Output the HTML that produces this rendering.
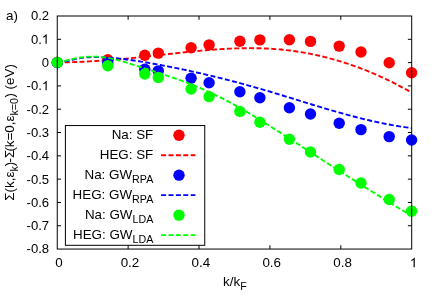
<!DOCTYPE html>
<html><head><meta charset="utf-8"><style>
html,body{margin:0;padding:0;background:#fff;}
#w{will-change:transform;width:436px;height:305px}
svg{display:block;font-family:"Liberation Sans",sans-serif;font-size:13.4px;fill:#000}
</style></head><body>
<div id="w"><svg width="436" height="305" viewBox="0 0 436 305">
<g stroke="#000" stroke-width="1" fill="none">
<path d="M57.25 39.30h3.8M411.7 39.30h-3.8"/>
<path d="M57.25 62.61h3.8M411.7 62.61h-3.8"/>
<path d="M57.25 85.92h3.8M411.7 85.92h-3.8"/>
<path d="M57.25 109.22h3.8M411.7 109.22h-3.8"/>
<path d="M57.25 132.53h3.8M411.7 132.53h-3.8"/>
<path d="M57.25 155.83h3.8M411.7 155.83h-3.8"/>
<path d="M57.25 179.14h3.8M411.7 179.14h-3.8"/>
<path d="M57.25 202.44h3.8M411.7 202.44h-3.8"/>
<path d="M57.25 225.75h3.8M411.7 225.75h-3.8"/>
<path d="M128.14 249.05v-3.8M128.14 16.0v3.8"/>
<path d="M199.03 249.05v-3.8M199.03 16.0v3.8"/>
<path d="M269.92 249.05v-3.8M269.92 16.0v3.8"/>
<path d="M340.81 249.05v-3.8M340.81 16.0v3.8"/>
</g>
<g>
<circle cx="57.3" cy="62.5" r="5.7" fill="#ff0000"/>
<circle cx="107.8" cy="59.7" r="5.7" fill="#ff0000"/>
<circle cx="144.8" cy="55.3" r="5.7" fill="#ff0000"/>
<circle cx="158.3" cy="53.1" r="5.7" fill="#ff0000"/>
<circle cx="191.1" cy="47.8" r="5.7" fill="#ff0000"/>
<circle cx="209.1" cy="44.9" r="5.7" fill="#ff0000"/>
<circle cx="239.9" cy="41.2" r="5.7" fill="#ff0000"/>
<circle cx="259.9" cy="39.9" r="5.7" fill="#ff0000"/>
<circle cx="289.4" cy="39.8" r="5.7" fill="#ff0000"/>
<circle cx="310.5" cy="41.4" r="5.7" fill="#ff0000"/>
<circle cx="339.2" cy="46.1" r="5.7" fill="#ff0000"/>
<circle cx="361.0" cy="52.0" r="5.7" fill="#ff0000"/>
<circle cx="389.2" cy="62.8" r="5.7" fill="#ff0000"/>
<circle cx="411.6" cy="72.7" r="5.7" fill="#ff0000"/>
<polyline points="57.30,62.36 59.07,62.35 60.85,62.34 62.62,62.32 64.40,62.29 66.17,62.26 67.95,62.23 69.72,62.19 71.50,62.14 73.27,62.09 75.05,62.04 76.82,61.98 78.60,61.91 80.37,61.84 82.15,61.76 83.92,61.69 85.70,61.60 87.47,61.51 89.25,61.42 91.02,61.32 92.80,61.22 94.57,61.12 96.35,61.01 98.12,60.89 99.90,60.77 101.67,60.65 103.45,60.53 105.22,60.40 107.00,60.26 108.77,60.13 110.55,59.99 112.32,59.85 114.10,59.70 115.87,59.55 117.65,59.40 119.42,59.24 121.20,59.08 122.97,58.92 124.75,58.75 126.52,58.59 128.29,58.42 130.07,58.24 131.84,58.07 133.62,57.89 135.39,57.71 137.17,57.52 138.94,57.34 140.72,57.15 142.49,56.96 144.27,56.77 146.04,56.58 147.82,56.38 149.59,56.19 151.37,55.99 153.14,55.79 154.92,55.59 156.69,55.40 158.47,55.20 160.24,55.00 162.02,54.79 163.79,54.59 165.57,54.39 167.34,54.19 169.12,53.99 170.89,53.80 172.67,53.60 174.44,53.40 176.22,53.20 177.99,53.01 179.77,52.82 181.54,52.62 183.32,52.43 185.09,52.25 186.87,52.06 188.64,51.88 190.42,51.70 192.19,51.52 193.97,51.34 195.74,51.17 197.52,51.00 199.29,50.83 201.06,50.67 202.84,50.51 204.61,50.36 206.39,50.20 208.16,50.06 209.94,49.91 211.71,49.77 213.49,49.64 215.26,49.51 217.04,49.39 218.81,49.27 220.59,49.15 222.36,49.04 224.14,48.94 225.91,48.84 227.69,48.75 229.46,48.67 231.24,48.59 233.01,48.51 234.79,48.45 236.56,48.39 238.34,48.33 240.11,48.29 241.89,48.25 243.66,48.22 245.44,48.20 247.21,48.18 248.99,48.17 250.76,48.17 252.54,48.18 254.31,48.20 256.09,48.22 257.86,48.25 259.64,48.30 261.41,48.35 263.19,48.41 264.96,48.48 266.74,48.56 268.51,48.65 270.28,48.75 272.06,48.86 273.83,48.98 275.61,49.11 277.38,49.25 279.16,49.40 280.93,49.56 282.71,49.73 284.48,49.92 286.26,50.11 288.03,50.32 289.81,50.53 291.58,50.76 293.36,51.00 295.13,51.25 296.91,51.51 298.68,51.78 300.46,52.06 302.23,52.36 304.01,52.66 305.78,52.98 307.56,53.30 309.33,53.64 311.11,53.99 312.88,54.35 314.66,54.72 316.43,55.11 318.21,55.50 319.98,55.91 321.76,56.32 323.53,56.75 325.31,57.19 327.08,57.64 328.86,58.11 330.63,58.58 332.41,59.06 334.18,59.56 335.96,60.07 337.73,60.59 339.51,61.12 341.28,61.66 343.05,62.21 344.83,62.78 346.60,63.36 348.38,63.94 350.15,64.54 351.93,65.16 353.70,65.78 355.48,66.41 357.25,67.06 359.03,67.72 360.80,68.39 362.58,69.07 364.35,69.76 366.13,70.47 367.90,71.18 369.68,71.91 371.45,72.65 373.23,73.40 375.00,74.17 376.78,74.94 378.55,75.73 380.33,76.53 382.10,77.34 383.88,78.16 385.65,79.00 387.43,79.84 389.20,80.70 390.98,81.57 392.75,82.45 394.53,83.35 396.30,84.26 398.08,85.17 399.85,86.10 401.63,87.05 403.40,88.00 405.18,88.97 406.95,89.95 408.73,90.94 410.50,91.94" fill="none" stroke="#ff0000" stroke-width="1.9" stroke-dasharray="5 2.4"/>
<circle cx="57.3" cy="62.5" r="5.7" fill="#0000ff"/>
<circle cx="107.8" cy="62.6" r="5.7" fill="#0000ff"/>
<circle cx="144.8" cy="69.2" r="5.7" fill="#0000ff"/>
<circle cx="158.3" cy="70.9" r="5.7" fill="#0000ff"/>
<circle cx="191.1" cy="78.2" r="5.7" fill="#0000ff"/>
<circle cx="209.1" cy="82.8" r="5.7" fill="#0000ff"/>
<circle cx="239.9" cy="91.8" r="5.7" fill="#0000ff"/>
<circle cx="259.9" cy="97.8" r="5.7" fill="#0000ff"/>
<circle cx="289.4" cy="107.8" r="5.7" fill="#0000ff"/>
<circle cx="310.5" cy="114.0" r="5.7" fill="#0000ff"/>
<circle cx="339.2" cy="123.2" r="5.7" fill="#0000ff"/>
<circle cx="361.0" cy="129.6" r="5.7" fill="#0000ff"/>
<circle cx="389.2" cy="136.6" r="5.7" fill="#0000ff"/>
<circle cx="411.6" cy="140" r="5.7" fill="#0000ff"/>
<polyline points="57.30,62.67 59.08,62.43 60.86,62.16 62.64,61.84 64.42,61.49 66.20,61.12 67.99,60.74 69.77,60.34 71.55,59.95 73.33,59.56 75.11,59.18 76.89,58.82 78.67,58.49 80.45,58.18 82.23,57.91 84.01,57.68 85.79,57.48 87.58,57.33 89.36,57.22 91.14,57.14 92.92,57.10 94.70,57.08 96.48,57.09 98.26,57.12 100.04,57.17 101.82,57.24 103.60,57.31 105.38,57.41 107.17,57.51 108.95,57.63 110.73,57.77 112.51,57.91 114.29,58.07 116.07,58.24 117.85,58.42 119.63,58.61 121.41,58.81 123.19,59.02 124.97,59.24 126.76,59.47 128.54,59.71 130.32,59.96 132.10,60.21 133.88,60.47 135.66,60.74 137.44,61.02 139.22,61.30 141.00,61.59 142.78,61.88 144.56,62.18 146.35,62.48 148.13,62.79 149.91,63.10 151.69,63.42 153.47,63.73 155.25,64.05 157.03,64.38 158.81,64.71 160.59,65.04 162.37,65.37 164.15,65.71 165.94,66.05 167.72,66.40 169.50,66.74 171.28,67.09 173.06,67.45 174.84,67.81 176.62,68.17 178.40,68.53 180.18,68.90 181.96,69.27 183.74,69.65 185.53,70.02 187.31,70.40 189.09,70.79 190.87,71.18 192.65,71.57 194.43,71.96 196.21,72.36 197.99,72.76 199.77,73.16 201.55,73.57 203.33,73.98 205.12,74.40 206.90,74.81 208.68,75.23 210.46,75.66 212.24,76.08 214.02,76.52 215.80,76.95 217.58,77.39 219.36,77.83 221.14,78.27 222.92,78.72 224.71,79.17 226.49,79.62 228.27,80.08 230.05,80.53 231.83,81.00 233.61,81.46 235.39,81.93 237.17,82.41 238.95,82.88 240.73,83.36 242.51,83.84 244.29,84.33 246.08,84.82 247.86,85.31 249.64,85.80 251.42,86.30 253.20,86.81 254.98,87.31 256.76,87.82 258.54,88.33 260.32,88.84 262.10,89.36 263.88,89.88 265.67,90.41 267.45,90.93 269.23,91.46 271.01,91.99 272.79,92.53 274.57,93.06 276.35,93.60 278.13,94.14 279.91,94.68 281.69,95.22 283.47,95.76 285.26,96.31 287.04,96.85 288.82,97.40 290.60,97.95 292.38,98.50 294.16,99.04 295.94,99.59 297.72,100.14 299.50,100.69 301.28,101.24 303.06,101.78 304.85,102.33 306.63,102.88 308.41,103.42 310.19,103.96 311.97,104.51 313.75,105.05 315.53,105.59 317.31,106.13 319.09,106.66 320.87,107.20 322.65,107.73 324.44,108.26 326.22,108.79 328.00,109.31 329.78,109.83 331.56,110.35 333.34,110.87 335.12,111.38 336.90,111.89 338.68,112.39 340.46,112.90 342.24,113.39 344.03,113.89 345.81,114.38 347.59,114.86 349.37,115.34 351.15,115.82 352.93,116.29 354.71,116.76 356.49,117.22 358.27,117.67 360.05,118.13 361.83,118.57 363.62,119.01 365.40,119.44 367.18,119.87 368.96,120.29 370.74,120.70 372.52,121.11 374.30,121.51 376.08,121.91 377.86,122.29 379.64,122.67 381.42,123.05 383.21,123.41 384.99,123.77 386.77,124.12 388.55,124.46 390.33,124.79 392.11,125.12 393.89,125.43 395.67,125.74 397.45,126.04 399.23,126.33 401.01,126.61 402.80,126.88 404.58,127.15 406.36,127.40 408.14,127.64 409.92,127.88 411.70,128.10" fill="none" stroke="#0000ff" stroke-width="1.9" stroke-dasharray="5 2.4"/>
<circle cx="57.3" cy="62.4" r="5.7" fill="#00ff00"/>
<circle cx="107.8" cy="65.8" r="5.7" fill="#00ff00"/>
<circle cx="144.8" cy="74" r="5.7" fill="#00ff00"/>
<circle cx="158.3" cy="77.4" r="5.7" fill="#00ff00"/>
<circle cx="191.1" cy="89.0" r="5.7" fill="#00ff00"/>
<circle cx="209.1" cy="96.6" r="5.7" fill="#00ff00"/>
<circle cx="239.9" cy="111.4" r="5.7" fill="#00ff00"/>
<circle cx="259.9" cy="122.2" r="5.7" fill="#00ff00"/>
<circle cx="289.4" cy="139.3" r="5.7" fill="#00ff00"/>
<circle cx="310.5" cy="152.0" r="5.7" fill="#00ff00"/>
<circle cx="339.2" cy="169.5" r="5.7" fill="#00ff00"/>
<circle cx="361.0" cy="183.0" r="5.7" fill="#00ff00"/>
<circle cx="389.2" cy="199.5" r="5.7" fill="#00ff00"/>
<circle cx="411.6" cy="211.1" r="5.7" fill="#00ff00"/>
<polyline points="57.30,62.88 59.08,62.39 60.86,61.90 62.64,61.42 64.42,60.95 66.20,60.49 67.98,60.05 69.76,59.62 71.54,59.20 73.32,58.81 75.10,58.45 76.88,58.11 78.66,57.80 80.44,57.51 82.22,57.27 84.00,57.05 85.78,56.88 87.56,56.75 89.34,56.65 91.12,56.59 92.90,56.57 94.68,56.59 96.46,56.65 98.24,56.75 100.02,56.88 101.80,57.05 103.58,57.25 105.36,57.50 107.14,57.77 108.92,58.09 110.70,58.43 112.48,58.81 114.26,59.22 116.04,59.65 117.82,60.11 119.60,60.58 121.38,61.08 123.16,61.59 124.94,62.12 126.72,62.66 128.50,63.20 130.28,63.76 132.06,64.31 133.84,64.88 135.62,65.44 137.40,66.01 139.18,66.58 140.96,67.15 142.74,67.73 144.52,68.31 146.29,68.89 148.07,69.47 149.85,70.05 151.63,70.63 153.41,71.22 155.19,71.80 156.97,72.38 158.75,72.97 160.53,73.55 162.31,74.13 164.09,74.72 165.87,75.31 167.65,75.90 169.43,76.50 171.21,77.10 172.99,77.71 174.77,78.32 176.55,78.95 178.33,79.59 180.11,80.23 181.89,80.88 183.67,81.54 185.45,82.21 187.23,82.89 189.01,83.58 190.79,84.28 192.57,84.99 194.35,85.71 196.13,86.44 197.91,87.18 199.69,87.93 201.47,88.69 203.25,89.46 205.03,90.25 206.81,91.04 208.59,91.84 210.37,92.66 212.15,93.49 213.93,94.32 215.71,95.17 217.49,96.04 219.27,96.91 221.05,97.80 222.83,98.69 224.61,99.60 226.39,100.53 228.17,101.46 229.95,102.41 231.73,103.37 233.51,104.34 235.29,105.32 237.07,106.31 238.85,107.31 240.63,108.32 242.41,109.34 244.19,110.38 245.97,111.41 247.75,112.46 249.53,113.52 251.31,114.58 253.09,115.65 254.87,116.73 256.65,117.82 258.43,118.91 260.21,120.01 261.99,121.11 263.77,122.22 265.55,123.34 267.33,124.46 269.11,125.58 270.89,126.71 272.67,127.84 274.45,128.97 276.23,130.11 278.01,131.26 279.79,132.40 281.57,133.55 283.35,134.69 285.13,135.84 286.91,136.99 288.69,138.14 290.47,139.30 292.25,140.45 294.03,141.60 295.81,142.75 297.59,143.91 299.37,145.06 301.15,146.21 302.93,147.36 304.71,148.52 306.49,149.67 308.27,150.82 310.05,151.97 311.83,153.13 313.61,154.28 315.39,155.43 317.17,156.58 318.95,157.73 320.73,158.88 322.51,160.03 324.28,161.18 326.06,162.33 327.84,163.48 329.62,164.62 331.40,165.77 333.18,166.92 334.96,168.06 336.74,169.20 338.52,170.35 340.30,171.49 342.08,172.63 343.86,173.77 345.64,174.91 347.42,176.05 349.20,177.18 350.98,178.32 352.76,179.45 354.54,180.58 356.32,181.71 358.10,182.84 359.88,183.97 361.66,185.10 363.44,186.22 365.22,187.34 367.00,188.46 368.78,189.58 370.56,190.70 372.34,191.82 374.12,192.93 375.90,194.04 377.68,195.15 379.46,196.26 381.24,197.36 383.02,198.47 384.80,199.57 386.58,200.67 388.36,201.76 390.14,202.86 391.92,203.95 393.70,205.04 395.48,206.13 397.26,207.21 399.04,208.29 400.82,209.37 402.60,210.45 404.38,211.52 406.16,212.59 407.94,213.66 409.72,214.73 411.50,215.79" fill="none" stroke="#00ff00" stroke-width="1.9" stroke-dasharray="5 2.4"/>
</g>
<rect x="65.4" y="125.55" width="139.35" height="119.75" fill="#fff" stroke="#000" stroke-width="1"/>
<text x="153.3" y="139.00" text-anchor="end">Na: SF</text>
<circle cx="179" cy="135.20" r="5.7" fill="#ff0000"/>
<text x="153.3" y="158.98" text-anchor="end">HEG: SF</text>
<path d="M161.1 155.18H195.4" stroke="#ff0000" stroke-width="1.9" stroke-dasharray="5 2.4" fill="none"/>
<text x="153.3" y="178.96" text-anchor="end">Na: GW<tspan font-size="10.7" dy="3.6">RPA</tspan></text>
<circle cx="179" cy="175.16" r="5.7" fill="#0000ff"/>
<text x="153.3" y="198.94" text-anchor="end">HEG: GW<tspan font-size="10.7" dy="3.6">RPA</tspan></text>
<path d="M161.1 195.14H195.4" stroke="#0000ff" stroke-width="1.9" stroke-dasharray="5 2.4" fill="none"/>
<text x="153.3" y="218.92" text-anchor="end">Na: GW<tspan font-size="10.7" dy="3.6">LDA</tspan></text>
<circle cx="179" cy="215.12" r="5.7" fill="#00ff00"/>
<text x="153.3" y="238.90" text-anchor="end">HEG: GW<tspan font-size="10.7" dy="3.6">LDA</tspan></text>
<path d="M161.1 235.10H195.4" stroke="#00ff00" stroke-width="1.9" stroke-dasharray="5 2.4" fill="none"/>
<g stroke="#000" stroke-width="1" fill="none">
<rect x="57.25" y="16.0" width="354.45" height="233.05"/>
</g>
<text x="49.1" y="20.40" font-size="13.1" text-anchor="end">0.2</text>
<text x="41.82" y="43.70" font-size="13.1" text-anchor="end">0.</text><path d="M46.70 43.70L45.55 43.70L45.55 36.37Q45.13 36.76 44.46 37.17Q43.78 37.56 43.24 37.76L43.24 36.64Q44.21 36.19 44.93 35.54Q45.65 34.89 45.96 34.29L46.70 34.29Z" fill="#000"/>
<text x="49.1" y="67.01" font-size="13.1" text-anchor="end">0</text>
<text x="41.82" y="90.32" font-size="13.1" text-anchor="end">-0.</text><path d="M46.70 90.32L45.55 90.32L45.55 82.98Q45.13 83.37 44.46 83.78Q43.78 84.17 43.24 84.37L43.24 83.25Q44.21 82.80 44.93 82.15Q45.65 81.50 45.96 80.90L46.70 80.90Z" fill="#000"/>
<text x="49.1" y="113.62" font-size="13.1" text-anchor="end">-0.2</text>
<text x="49.1" y="136.93" font-size="13.1" text-anchor="end">-0.3</text>
<text x="49.1" y="160.23" font-size="13.1" text-anchor="end">-0.4</text>
<text x="49.1" y="183.54" font-size="13.1" text-anchor="end">-0.5</text>
<text x="49.1" y="206.84" font-size="13.1" text-anchor="end">-0.6</text>
<text x="49.1" y="230.15" font-size="13.1" text-anchor="end">-0.7</text>
<text x="49.1" y="253.45" font-size="13.1" text-anchor="end">-0.8</text>
<text x="59.05" y="267.3" text-anchor="middle">0</text>
<text x="129.94" y="267.3" text-anchor="middle">0.2</text>
<text x="200.83" y="267.3" text-anchor="middle">0.4</text>
<text x="271.72" y="267.3" text-anchor="middle">0.6</text>
<text x="342.61" y="267.3" text-anchor="middle">0.8</text>
<path d="M414.77 267.30L413.59 267.30L413.59 259.80Q413.17 260.20 412.48 260.61Q411.78 261.02 411.24 261.22L411.24 260.08Q412.23 259.61 412.96 258.95Q413.70 258.28 414.01 257.67L414.77 257.67Z" fill="#000"/>
<text x="6" y="20.4">a)</text>
<text x="223" y="285.9">k/k<tspan font-size="10.7" dy="3.9">F</tspan></text>
<text transform="translate(14.1,200.7) rotate(-90)">Σ(k,ε<tspan font-size="10.7" dy="3.6">k</tspan><tspan dy="-3.6">)</tspan><tspan dx="-0.8">-Σ</tspan><tspan dx="-1.8">(k=0,ε</tspan><tspan font-size="10.7" dy="3.6">k=0</tspan><tspan dy="-3.6" dx="0.4">) (eV)</tspan></text>
</svg></div>
</body></html>
